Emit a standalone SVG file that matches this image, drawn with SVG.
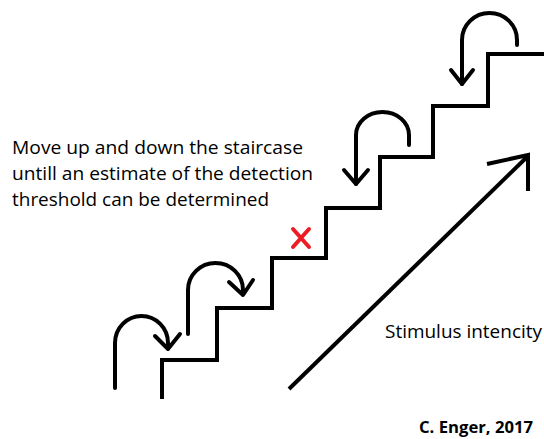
<svg xmlns="http://www.w3.org/2000/svg" width="544" height="439" viewBox="0 0 544 439">
<style>
.ln{fill:none;stroke:#000;stroke-width:4;stroke-linejoin:miter}
.cv{fill:none;stroke:#000;stroke-width:4;stroke-linecap:round;stroke-linejoin:round}
.t{font-family:"Open Sans","Noto Sans",sans-serif;fill:#000}
</style>
<rect width="544" height="439" fill="#fff"/>
<g id="staircase">
<path class="ln" d="M162,399 V360 H217 V308 H272 V258 H326 V208 H380 V157 H433 V106 H488 V54 H544"/>
</g>
<g id="connectors">
<g id="hop1"><path class="cv" d="M115,388 V343 A26.5,27 0 0 1 168,343 V348"/><path class="cv" d="M155,336 L168,349 L180,334"/></g>
<g id="hop2"><path class="cv" d="M188,334 V290 A27.5,27 0 0 1 243,290 V294"/><path class="cv" d="M229,282 L243,295 L253,280"/></g>
<g id="hop3"><path class="cv" d="M356,184 V135 A26.5,23 0 0 1 409,135 V145"/><path class="cv" d="M344,170 L356,184 L368,170"/></g>
<g id="hop4"><path class="cv" d="M462,84 V40 A27.5,27 0 0 1 517,40 V45"/><path class="cv" d="M451,70 L462,84 L473,70"/></g>
<g id="intensity-arrow"><path class="ln" d="M289,389 L528,156"/><path class="ln" d="M487,164 L528,155 L528,191"/></g>
</g>
<g id="threshold-mark">
<path d="M293,229 L309,247 M309,229 L293,247" stroke="#ed1c24" stroke-width="4" stroke-linecap="round" fill="none"/>
</g>
<g id="instructions" class="t" font-size="19">
<text x="12" y="154" textLength="291" lengthAdjust="spacingAndGlyphs">Move up and down the staircase</text>
<text x="12" y="180" textLength="301" lengthAdjust="spacingAndGlyphs">untill an estimate of the detection</text>
<text x="12" y="206" textLength="257" lengthAdjust="spacingAndGlyphs">threshold can be determined</text>
</g>
<g id="axis-label"><text class="t" x="385" y="338" font-size="18" textLength="157" lengthAdjust="spacingAndGlyphs">Stimulus intencity</text></g>
<g id="credit"><text class="t" x="419" y="433" font-size="16" font-weight="bold" textLength="114" lengthAdjust="spacingAndGlyphs">C. Enger, 2017</text></g>
</svg>
